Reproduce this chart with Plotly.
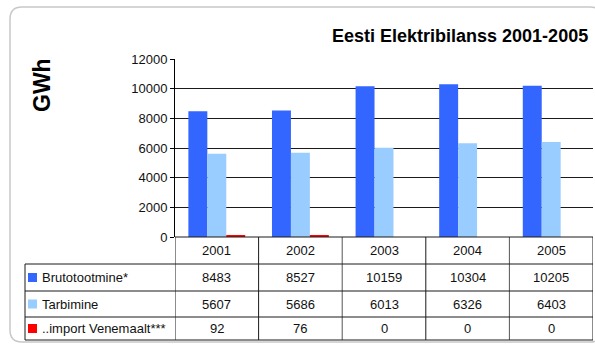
import plotly.graph_objects as go

years = ["2001", "2002", "2003", "2004", "2005"]
series_names = ["Brutotootmine*", "Tarbimine", "..import Venemaalt***"]
brutotootmine = [8483, 8527, 10159, 10304, 10205]
tarbimine = [5607, 5686, 6013, 6326, 6403]
import_venemaalt = [92, 76, 0, 0, 0]
colors = ["#3366FF", "#99CCFF", "#FF0000"]
y_ticks = [0, 2000, 4000, 6000, 8000, 10000, 12000]

W, H = 595, 345
FONT = "Liberation Sans, Arial, sans-serif"


def px(x):
    return x / W


def py(y):
    return 1 - y / H


series = [brutotootmine, tarbimine, import_venemaalt]

fig = go.Figure()
for name, vals, col in zip(series_names, series, colors):
    fig.add_trace(go.Bar(x=years, y=vals, name=name, marker_color=col,
                         marker_line_width=0, showlegend=False))

shapes = []
annotations = []

# Rounded frame
x0, y0, x1, y1, r = 10, 7, 602, 342, 12
path = (f"M {px(x0)},{py(y0 + r)} Q {px(x0)},{py(y0)} {px(x0 + r)},{py(y0)} "
        f"L {px(x1 - r)},{py(y0)} Q {px(x1)},{py(y0)} {px(x1)},{py(y0 + r)} "
        f"L {px(x1)},{py(y1 - r)} Q {px(x1)},{py(y1)} {px(x1 - r)},{py(y1)} "
        f"L {px(x0 + r)},{py(y1)} Q {px(x0)},{py(y1)} {px(x0)},{py(y1 - r)} Z")
shapes.append(dict(type="path", path=path, xref="paper", yref="paper",
                   line=dict(color="#C8C8C8", width=1.5), layer="below"))

# Table geometry (pixels)
table_top = 237
row_lines = [264, 291, 317, 340]
table_left = 25
table_right = 593
line_col = "#1a1a1a"

for i in range(len(years) + 1):
    shapes.append(dict(type="line", xref="x", yref="paper",
                       x0=i - 0.5, x1=i - 0.5, y0=py(table_top), y1=py(row_lines[-1]),
                       line=dict(color=line_col if i not in (2, 4) else "#555555", width=1)))
shapes.append(dict(type="line", xref="paper", yref="paper",
                   x0=px(175), x1=px(table_right), y0=py(table_top), y1=py(table_top),
                   line=dict(color=line_col, width=1)))
for yl in row_lines:
    shapes.append(dict(type="line", xref="paper", yref="paper",
                       x0=px(table_left), x1=px(table_right), y0=py(yl), y1=py(yl),
                       line=dict(color=line_col, width=1)))
shapes.append(dict(type="line", xref="paper", yref="paper",
                   x0=px(table_left), x1=px(table_left), y0=py(row_lines[0]), y1=py(row_lines[-1]),
                   line=dict(color=line_col, width=1)))

TF = dict(size=13, color="#111", family=FONT)

for i, yr in enumerate(years):
    annotations.append(dict(x=i, y=py((table_top + row_lines[0]) / 2), xref="x", yref="paper",
                            xanchor="center", yanchor="middle",
                            text=yr, showarrow=False, font=TF))

row_tops = row_lines[:3]
row_bots = row_lines[1:]
for name, vals, col, t, b in zip(series_names, series, colors, row_tops, row_bots):
    cy = (t + b) / 2
    shapes.append(dict(type="rect", xref="paper", yref="paper",
                       x0=px(28), x1=px(37), y0=py(cy - 4.5), y1=py(cy + 4.5),
                       fillcolor=col, line=dict(width=0)))
    annotations.append(dict(x=px(40), y=py(cy), xref="paper", yref="paper",
                            xanchor="left", yanchor="middle",
                            text=name, showarrow=False, font=TF))
    for i, v in enumerate(vals):
        annotations.append(dict(x=i, y=py(cy), xref="x", yref="paper",
                                xanchor="center", yanchor="middle",
                                text=str(v), showarrow=False, font=TF))

annotations.append(dict(x=px(590), y=py(36), xref="paper", yref="paper",
                        xanchor="right", yanchor="middle",
                        text="<b>Eesti Elektribilanss 2001-2005</b>", showarrow=False,
                        font=dict(size=18, color="#000", family=FONT)))
annotations.append(dict(x=px(42), y=py(85), xref="paper", yref="paper",
                        xanchor="center", yanchor="middle",
                        text="<b>GWh</b>", textangle=-90, showarrow=False,
                        font=dict(size=23, color="#000", family=FONT)))

fig.update_layout(
    width=W, height=H,
    margin=dict(l=0, r=0, t=0, b=0, pad=0),
    paper_bgcolor="white", plot_bgcolor="white",
    barmode="group", bargap=0.32, bargroupgap=0,
    font=dict(family=FONT, size=13, color="#111"),
    shapes=shapes, annotations=annotations,
    xaxis=dict(domain=[px(175), px(593)], range=[-0.5, 4.5], showticklabels=False,
               showgrid=False, zeroline=False, showline=False, ticks="", automargin=False),
    yaxis=dict(domain=[py(table_top), py(59)], range=[0, 12000], tickvals=y_ticks,
               ticktext=[str(v) for v in y_ticks], automargin=False,
               showgrid=True, gridcolor="#1a1a1a", gridwidth=1, zeroline=False,
               showline=True, linecolor="#000", linewidth=1,
               ticks="outside", ticklen=4, tickcolor="#000",
               tickfont=TF),
)

fig.write_html("out.html")
